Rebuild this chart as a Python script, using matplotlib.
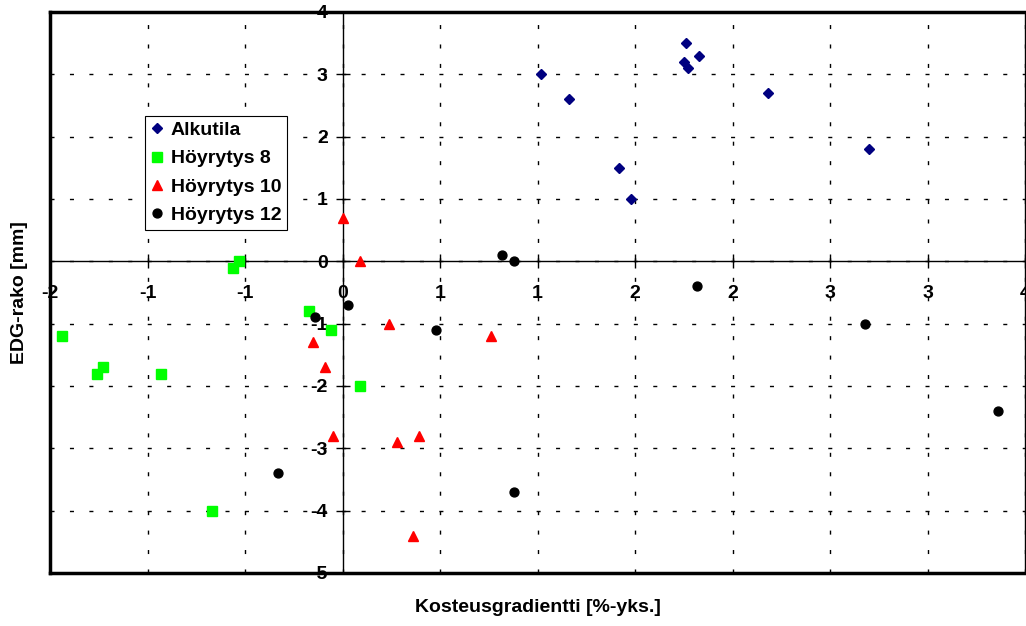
import matplotlib.pyplot as plt

plt.rcParams['font.family'] = 'Liberation Sans'
plt.rcParams['font.weight'] = 'bold'

# mittaukset: kosteusgradientti [%-yks.] ja EDG-rako [mm]
alku_x = [1.02, 1.16, 1.76, 1.75, 1.77, 1.83, 2.18, 1.42, 1.48, 2.70]
alku_y = [3.0, 2.6, 3.5, 3.2, 3.1, 3.3, 2.7, 1.5, 1.0, 1.8]

h8_x = [-0.53, -0.56, -1.44, -1.23, -1.26, -0.93, -0.17, -0.06, 0.09, -0.67]
h8_y = [0.0, -0.1, -1.2, -1.7, -1.8, -1.8, -0.8, -1.1, -2.0, -4.0]

h10_x = [0.0, 0.09, 0.24, 0.76, -0.15, -0.09, -0.05, 0.28, 0.39, 0.36]
h10_y = [0.7, 0.0, -1.0, -1.2, -1.3, -1.7, -2.8, -2.9, -2.8, -4.4]

h12_x = [0.82, 0.88, 0.03, -0.14, 0.48, 1.82, 2.68, 3.36, -0.33, 0.88]
h12_y = [0.1, 0.0, -0.7, -0.9, -1.1, -0.4, -1.0, -2.4, -3.4, -3.7]

x_ticks = [-1.5, -1.0, -0.5, 0.0, 0.5, 1.0, 1.5, 2.0, 2.5, 3.0, 3.5]
x_tick_labels = ['-2', '-1', '-1', '0', '1', '1', '2', '2', '3', '3', '4']
y_ticks = [-5, -4, -3, -2, -1, 0, 1, 2, 3, 4]
y_tick_labels = ['-5', '-4', '-3', '-2', '-1', '0', '1', '2', '3', '4']

fig = plt.figure(figsize=(10.26, 6.26), dpi=100)
ax = fig.add_axes([50/1026, 1 - 573/626, 975/1026, 561/626])

ax.plot(alku_x, alku_y, 'D', color='#000080', ms=4.8, label='Alkutila', zorder=3)
ax.plot(h8_x, h8_y, 's', color='#00FF00', ms=6.5, label='Höyrytys 8', zorder=3)
ax.plot(h10_x, h10_y, '^', color='#FF0000', ms=6.5, label='Höyrytys 10', zorder=3)
ax.plot(h12_x, h12_y, 'o', color='black', ms=6.4, label='Höyrytys 12', zorder=3)

ax.set_xlim(-1.5, 3.5)
ax.set_ylim(-5, 4)
ax.set_xticks(x_ticks)
ax.set_xticklabels(x_tick_labels)
ax.set_yticks(y_ticks)
ax.set_yticklabels(y_tick_labels)

# akselit kulkevat nollakohdan kautta
ax.spines['left'].set_position(('data', 0))
ax.spines['bottom'].set_position(('data', 0))
ax.spines['left'].set_linewidth(1)
ax.spines['bottom'].set_linewidth(1)
ax.spines['top'].set_linewidth(2.5)
ax.spines['right'].set_linewidth(1)

# kuvaajan reunat vasemmalla ja alhaalla
ax.plot([0, 0], [0, 1], color='black', lw=2.5, transform=ax.transAxes, clip_on=False)
ax.plot([0, 1], [0, 0], color='black', lw=2.5, transform=ax.transAxes, clip_on=False)

ax.tick_params(axis='both', direction='inout', length=9.4, width=1, labelsize=14)
ax.tick_params(axis='x', pad=12)
ax.tick_params(axis='y', pad=6)

ax.grid(True, color='black', lw=1, ls=(0, (2.9, 11.1)))

ax.set_xlabel('Kosteusgradientti [%-yks.]', fontsize=14, fontweight='bold')
ax.set_ylabel('EDG-rako [mm]', fontsize=14, fontweight='bold')
ax.xaxis.set_label_coords(0.5, -0.047)
ax.yaxis.set_label_coords(-0.023, 0.5)

leg = ax.legend(loc='upper left', bbox_to_anchor=(95/975, 457/561), borderaxespad=0,
                fontsize=14, handlelength=0.7, handletextpad=0.35, borderpad=0.28,
                labelspacing=0.555, fancybox=False, framealpha=1, edgecolor='black')
leg.get_frame().set_linewidth(0.8)

fig.savefig('out.png', dpi=100)
